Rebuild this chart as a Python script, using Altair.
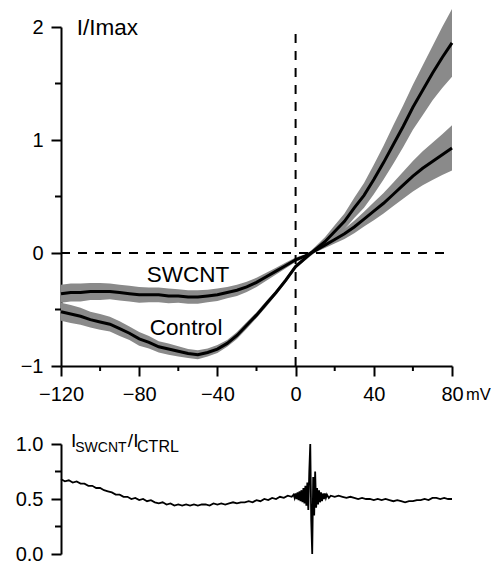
import altair as alt
import pandas as pd

# ---------------- data ----------------
mv = list(range(-120, 81, 5))
control = [-0.52, -0.54, -0.56, -0.59, -0.61, -0.63, -0.67, -0.71, -0.76, -0.79,
           -0.83, -0.85, -0.87, -0.89, -0.90, -0.88, -0.85, -0.80, -0.73, -0.64,
           -0.55, -0.45, -0.35, -0.24, -0.12, -0.045, 0.03, 0.10, 0.19, 0.28,
           0.40, 0.51, 0.65, 0.80, 0.96, 1.12, 1.29, 1.44, 1.59, 1.73, 1.86]
control_sem = [0.08, 0.08, 0.075, 0.07, 0.07, 0.065, 0.065, 0.06, 0.06, 0.055,
               0.05, 0.05, 0.045, 0.04, 0.04, 0.035, 0.035, 0.03, 0.03, 0.03,
               0.025, 0.025, 0.02, 0.02, 0.02, 0.02, 0.025, 0.04, 0.055, 0.07,
               0.09, 0.11, 0.13, 0.15, 0.17, 0.185, 0.2, 0.22, 0.24, 0.27, 0.30]
swcnt = [-0.36, -0.35, -0.35, -0.34, -0.34, -0.34, -0.35, -0.36, -0.37, -0.37,
         -0.37, -0.38, -0.38, -0.39, -0.39, -0.38, -0.37, -0.35, -0.33, -0.30,
         -0.26, -0.21, -0.16, -0.11, -0.06, -0.025, 0.02, 0.07, 0.12, 0.17,
         0.23, 0.30, 0.37, 0.44, 0.52, 0.60, 0.68, 0.75, 0.81, 0.87, 0.93]
swcnt_sem = [0.08, 0.08, 0.08, 0.075, 0.075, 0.07, 0.07, 0.07, 0.07, 0.065,
             0.065, 0.065, 0.06, 0.06, 0.06, 0.055, 0.055, 0.05, 0.05, 0.045,
             0.04, 0.035, 0.03, 0.025, 0.02, 0.015, 0.015, 0.025, 0.035, 0.045,
             0.055, 0.065, 0.08, 0.09, 0.105, 0.12, 0.135, 0.15, 0.165, 0.18, 0.2]

ratio_mv = [-120, -118, -116, -114, -112, -110, -108, -106, -104, -102,
            -100, -98, -96, -94, -92, -90, -88, -86, -84, -82,
            -80, -78, -76, -74, -72, -70, -68, -66, -64, -62,
            -60, -58, -56, -54, -52, -50, -48, -46, -44, -42,
            -40, -38, -36, -34, -32, -30, -28, -26, -24, -22,
            -20, -18, -16, -14, -12, -10, -8, -6, -4, -2,
            -1, -0.5, 0, 0.5, 1, 1.5, 2, 2.5, 3, 3.5,
            4, 4.5, 5, 5.5, 6, 6.5, 7, 7.5, 8, 8.5,
            9, 9.5, 10, 10.5, 11, 11.5, 12, 12.5, 13, 13.5,
            14, 14.5, 15, 15.5, 16, 17, 18,
            20, 22, 24, 26, 28, 30, 32, 34, 36, 38,
            40, 42, 44, 46, 48, 50, 52, 54, 56, 58,
            60, 62, 64, 66, 68, 70, 72, 74, 76, 78, 80]
ratio = [0.68, 0.66, 0.67, 0.65, 0.66, 0.64, 0.64, 0.62, 0.62, 0.60,
         0.60, 0.58, 0.57, 0.56, 0.54, 0.54, 0.52, 0.52, 0.50, 0.51,
         0.49, 0.50, 0.48, 0.49, 0.47, 0.46, 0.47, 0.45, 0.46, 0.44,
         0.45, 0.44, 0.45, 0.44, 0.45, 0.44, 0.45, 0.45, 0.44, 0.46,
         0.45, 0.46, 0.45, 0.46, 0.47, 0.46, 0.47, 0.47, 0.48, 0.47,
         0.49, 0.48, 0.50, 0.49, 0.51, 0.50, 0.52, 0.51, 0.53, 0.52,
         0.54, 0.51, 0.55, 0.50, 0.56, 0.49, 0.57, 0.48, 0.58, 0.47,
         0.60, 0.46, 0.62, 0.44, 0.65, 0.40, 0.75, 1.00, 0.30, 0.00,
         0.70, 0.35, 0.75, 0.42, 0.60, 0.45, 0.58, 0.47, 0.56, 0.48,
         0.55, 0.50, 0.55, 0.51, 0.54, 0.51, 0.53,
         0.52, 0.53, 0.52, 0.51, 0.52, 0.51, 0.50, 0.51, 0.50, 0.50,
         0.49, 0.50, 0.49, 0.50, 0.49, 0.48, 0.49, 0.48, 0.47, 0.48,
         0.48, 0.49, 0.49, 0.50, 0.49, 0.51, 0.51, 0.50, 0.51, 0.50, 0.50]

x_major = [-120, -80, -40, 0, 40, 80]
x_minor = [-100, -60, -20, 20, 60]
y_major_top = [-1, 0, 1, 2]
y_minor_top = [-0.5, 0.5, 1.5]
y_major_bot = [0, 0.5, 1.0]
y_minor_bot = [0.25, 0.75]

# annotations (data coordinates)
top_left_label = pd.DataFrame({"x": [-112], "y": [1.93], "text": ["I/Imax"]})
curve_labels = pd.DataFrame({
    "x": [-55, -56],
    "y": [-0.254, -0.726],
    "text": ["SWCNT", "Control"],
})
bot_labels = pd.DataFrame({
    "x": [-114.9, -112.7, -85.8, -81.1],
    "y": [0.973, 0.923, 0.973, 0.923],
    "text": ["I", "SWCNT", "/I", "CTRL"],
    "fs": [19, 14, 19, 16],
})

# ---------------- tables ----------------
rows = []
for i, v in enumerate(mv):
    rows.append({"mV": v, "val": control[i], "lo": control[i] - control_sem[i],
                 "hi": control[i] + control_sem[i], "series": "Control"})
    rows.append({"mV": v, "val": swcnt[i], "lo": swcnt[i] - swcnt_sem[i],
                 "hi": swcnt[i] + swcnt_sem[i], "series": "SWCNT"})
iv = pd.DataFrame(rows)
rdf = pd.DataFrame({"mV": ratio_mv, "ratio": ratio})

FONT = "Liberation Sans"
BAND = "#8a8a8a"
LBL = 20
W = 391

xscale = alt.Scale(domain=[-120, 80], nice=False, zero=False)
yscale_top = alt.Scale(domain=[-1, 2], nice=False, zero=False)
yscale_bot = alt.Scale(domain=[0, 1], nice=False, zero=False)


def make_axis(values, fmt):
    return alt.Axis(
        values=values, title=None, grid=False, format=fmt,
        ticks=True, tickSize=10, tickWidth=2, tickColor="black", tickOpacity=1,
        domainWidth=2, domainColor="black",
        labelFont=FONT, labelFontSize=LBL, labelColor="black", labelPadding=8,
        labelFlush=False, labelOverlap=False,
    )


x_axis = make_axis(x_major, "d")
y_axis_top = make_axis(y_major_top, "d")
y_axis_bot = make_axis(y_major_bot, ".1f")


def x_ticks_layer(values, at, length):
    return alt.Chart(pd.DataFrame({"v": values, "b": [at] * len(values)})).mark_tick(
        orient="vertical", color="black", opacity=1, thickness=2, size=length,
        yOffset=length / 2,
    ).encode(x="v:Q", y="b:Q")


def y_ticks_layer(values, at, length):
    return alt.Chart(pd.DataFrame({"v": values, "b": [at] * len(values)})).mark_tick(
        orient="horizontal", color="black", opacity=1, thickness=2, size=length,
        xOffset=-length / 2,
    ).encode(y="v:Q", x="b:Q")


base = alt.Chart(iv)
bands = base.mark_area(color=BAND, opacity=1, clip=False).encode(
    x=alt.X("mV:Q", scale=xscale, axis=x_axis),
    y=alt.Y("lo:Q", scale=yscale_top, axis=y_axis_top),
    y2="hi:Q",
    detail="series:N",
)
lines = base.mark_line(color="black", strokeWidth=3).encode(
    x=alt.X("mV:Q", scale=xscale),
    y=alt.Y("val:Q", scale=yscale_top),
    detail="series:N",
)
hrule = alt.Chart(pd.DataFrame({"a": [-120], "b": [80], "y": [0]})).mark_rule(
    color="black", strokeWidth=2, strokeDash=[9, 8]
).encode(x="a:Q", x2="b:Q", y="y:Q")
vrule = alt.Chart(pd.DataFrame({"x": [0], "a": [-1], "b": [2]})).mark_rule(
    color="black", strokeWidth=2, strokeDash=[9, 8]
).encode(x="x:Q", y="a:Q", y2="b:Q")

tl_left = alt.Chart(top_left_label).mark_text(
    font=FONT, fontSize=22.5, baseline="alphabetic", align="left", color="black"
).encode(x="x:Q", y="y:Q", text="text:N")
tl_center = alt.Chart(curve_labels).mark_text(
    font=FONT, fontSize=22.5, baseline="alphabetic", align="center", color="black"
).encode(x="x:Q", y="y:Q", text="text:N")
unit = alt.Chart(pd.DataFrame({"x": [80], "y": [-1], "t": ["mV"]})).mark_text(
    font=FONT, fontSize=16.5, baseline="alphabetic", align="left", color="black",
    dx=14, dy=34,
).encode(x="x:Q", y="y:Q", text="t:N")

top = alt.layer(
    bands, lines, hrule, vrule,
    x_ticks_layer(x_minor, -1, 5),
    y_ticks_layer(y_minor_top, -120, 6),
    tl_left, tl_center, unit,
).properties(width=W, height=339)

rline = alt.Chart(rdf).mark_line(color="black", strokeWidth=1.8).encode(
    x=alt.X("mV:Q", scale=xscale, axis=None),
    y=alt.Y("ratio:Q", scale=yscale_bot, axis=y_axis_bot),
)
blabels = alt.Chart(bot_labels).mark_text(
    font=FONT, baseline="alphabetic", align="left", color="black"
).encode(
    x="x:Q", y="y:Q", text="text:N",
    size=alt.Size("fs:Q", scale=None, legend=None),
)
bottom = alt.layer(
    rline,
    y_ticks_layer(y_minor_bot, -120, 6),
    blabels,
).properties(width=W, height=110)

chart = alt.vconcat(top, bottom, spacing=27).properties(
    padding={"left": 7, "top": 0, "right": 0, "bottom": 0},
    background="white",
).configure_view(stroke=None)

chart.save("out.html", embed_options={"renderer": "svg", "actions": False})
